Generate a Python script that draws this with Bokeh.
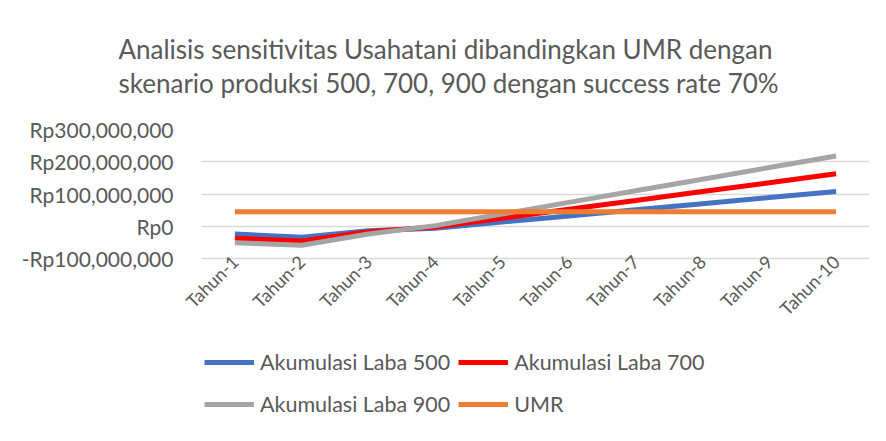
import math
from bokeh.plotting import figure
from bokeh.models import (Title, Legend, LegendItem, FixedTicker, CustomJSTickFormatter,
                          Range1d, ColumnDataSource)
from bokeh.embed import file_html
from bokeh.resources import INLINE

# ---- data ----
categories = ["Tahun-1", "Tahun-2", "Tahun-3", "Tahun-4", "Tahun-5",
              "Tahun-6", "Tahun-7", "Tahun-8", "Tahun-9", "Tahun-10"]
laba_500 = [-24e6, -34e6, -14e6, -6e6, 13e6, 32e6, 51e6, 70e6, 89e6, 108e6]
laba_700 = [-37e6, -46e6, -17e6, -2e6, 25e6, 53e6, 80e6, 108e6, 135e6, 163e6]
laba_900 = [-51e6, -59e6, -24e6, 2e6, 38e6, 74e6, 110e6, 146e6, 182e6, 218e6]
umr = [45e6, 45e6, 45e6, 45e6, 45e6, 45e6, 45e6, 45e6, 45e6, 45e6]
y_ticks = [-100e6, 0, 100e6, 200e6, 300e6]
series_names = ["Akumulasi Laba 500", "Akumulasi Laba 700", "Akumulasi Laba 900", "UMR"]
title_text = ("Analisis sensitivitas Usahatani dibandingkan UMR dengan\n"
              "skenario produksi 500, 700, 900 dengan success rate 70%")

FONT = "Lato"
TXT = "#595959"
colors = ["#4472C4", "#FF0000", "#A5A5A5", "#ED7D31"]

# category positions on a numeric axis (1..N), labelled with the category names
xpos = list(range(1, len(categories) + 1))
src = ColumnDataSource(dict(x=xpos, l500=laba_500, l700=laba_700,
                            l900=laba_900, umr=umr))

# frame: x from 160 px to 869 px (category slots 0.5..10.5 span 201..869 px),
# y from the top gridline (129 px) to the canvas bottom; -100M..300M fill 129 px.
p = figure(width=886, height=441,
           x_range=Range1d(1 - 74.4 / 66.8, len(categories) + 0.5),
           y_range=Range1d(-667.4e6, 300e6),
           output_backend="svg", toolbar_location=None,
           min_border_left=160, min_border_right=17,
           min_border_top=128, min_border_bottom=0)
p.title = None
p.outline_line_color = None

renderers = []
for key, col in zip(["l500", "l700", "l900", "umr"], colors):
    r = p.line(x="x", y=key, source=src, line_width=5, line_color=col)
    renderers.append(r)

# y axis
p.yaxis.ticker = FixedTicker(ticks=y_ticks)
p.yaxis.formatter = CustomJSTickFormatter(code="""
const a = Math.abs(tick).toFixed(0).replace(/\\B(?=(\\d{3})+(?!\\d))/g, ',');
return (tick < 0 ? '-' : '') + 'Rp' + a;
""")
p.yaxis.axis_line_color = None
p.yaxis.major_tick_line_color = None
p.yaxis.minor_tick_line_color = None
p.yaxis.major_label_standoff = -19
p.yaxis.major_label_text_font = FONT
p.yaxis.major_label_text_font_size = "21px"
p.yaxis.major_label_text_color = TXT

# x axis (category labels), drawn at the bottom gridline
p.xaxis.fixed_location = y_ticks[0]
p.xaxis.ticker = FixedTicker(ticks=xpos)
p.xaxis.major_label_overrides = {x: c for x, c in zip(xpos, categories)}
p.xaxis.axis_line_color = None
p.xaxis.major_tick_line_color = None
p.xaxis.minor_tick_line_color = None
p.xaxis.major_label_orientation = math.pi / 4
p.xaxis.major_label_standoff = -6
p.xaxis.major_label_text_font = FONT
p.xaxis.major_label_text_font_size = "18px"
p.xaxis.major_label_text_color = TXT

p.xgrid.visible = False
p.ygrid.ticker = FixedTicker(ticks=y_ticks)
p.ygrid.cross_bounds = (0.5, len(categories) + 0.5)
p.ygrid.grid_line_color = "#D9D9D9"
p.ygrid.grid_line_width = 1.5

# title (two lines)
t = Title(text=title_text, align="left", offset=-42, text_font=FONT,
          text_font_size="26px", text_font_style="normal", text_color=TXT,
          text_line_height=1.09, standoff=60)
p.add_layout(t, "above")

legend = Legend(items=[LegendItem(label=n, renderers=[r]) for n, r in zip(series_names, renderers)],
                location=(44, 20), orientation="horizontal", ncols=2,
                glyph_width=50, glyph_height=34, label_standoff=6, spacing=8,
                label_text_font=FONT, label_text_font_size="21.5px", label_text_color=TXT,
                border_line_color=None, background_fill_alpha=0, padding=0, margin=0)
p.add_layout(legend)

open("out.html", "w").write(file_html(p, INLINE))
